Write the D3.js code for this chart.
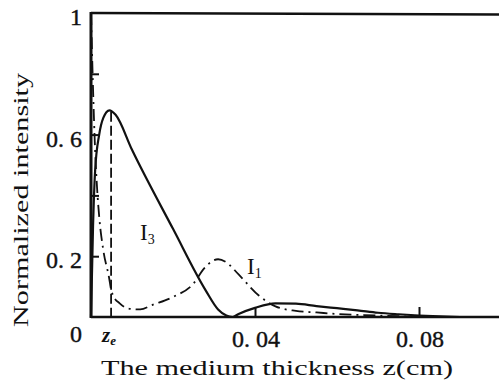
<!DOCTYPE html>
<html>
<head>
<meta charset="utf-8">
<script src="https://cdn.jsdelivr.net/npm/d3@7"></script>
<style>
  body { margin: 0; background: #fff; }
  svg { display: block; }
  text { font-family: "Liberation Serif", "DejaVu Serif", serif; fill: #111; }
</style>
</head>
<body>
<div id="chart"></div>
<script>
// I3 (solid) and I1 (dash-dot)
var i3z = [0, 0.0005, 0.001, 0.002, 0.003, 0.0045, 0.006, 0.01, 0.02, 0.028, 0.031, 0.033, 0.0345, 0.036, 0.04, 0.045, 0.05, 0.055, 0.06, 0.065, 0.07, 0.075, 0.08, 0.085, 0.09];
var i3v = [0, 0.30, 0.48, 0.60, 0.655, 0.68, 0.665, 0.55, 0.29, 0.087, 0.025, 0.005, 0.0, 0.01, 0.03, 0.045, 0.044, 0.036, 0.029, 0.022, 0.014, 0.009, 0.005, 0.002, 0];

var i1z = [0, 0.0005, 0.001, 0.0015, 0.002, 0.003, 0.0044, 0.0049, 0.0055, 0.007, 0.009, 0.012, 0.015, 0.02, 0.025, 0.0276, 0.031, 0.033, 0.036, 0.041, 0.045, 0.05, 0.055, 0.06, 0.07, 0.08];
var i1v = [1, 0.75, 0.55, 0.42, 0.33, 0.22, 0.13, 0.09, 0.068, 0.045, 0.028, 0.025, 0.04, 0.066, 0.11, 0.16, 0.19, 0.18, 0.14, 0.07, 0.035, 0.02, 0.015, 0.01, 0.005, 0];

var ze = 0.0049;
var yTicks = [0.2, 0.4, 0.6, 0.8];
var yLabels = [[1, "1"], [0.6, "0. 6"], [0.2, "0. 2"], [0, "0"]];
var xTicks = [0.04, 0.08];
var xLabels = [[0.04, "0. 04"], [0.08, "0. 08"]];

var W = 499, H = 388;
var svg = d3.select("#chart").append("svg").attr("width", W).attr("height", H);

var x = d3.scaleLinear().domain([0, 0.1]).range([91, 501]);
var y = d3.scaleLinear().domain([0, 1]).range([317, 13]);

// ticks
svg.append("g")
  .attr("transform", "translate(" + x(0) + ",0)")
  .call(d3.axisLeft(y).tickValues(yTicks).tickSize(-8).tickFormat(""))
  .call(function(g){ g.select(".domain").remove(); g.selectAll("line").attr("stroke", "#111").attr("stroke-width", 2); });

svg.append("g")
  .attr("transform", "translate(0," + y(0) + ")")
  .call(d3.axisBottom(x).tickValues(xTicks).tickSize(-10).tickFormat(""))
  .call(function(g){ g.select(".domain").remove(); g.selectAll("line").attr("stroke", "#111").attr("stroke-width", 2); });

// frame: left, bottom, top
svg.append("line").attr("x1", x(0)).attr("x2", x(0)).attr("y1", y(1) - 1).attr("y2", y(0) + 1)
  .attr("stroke", "#111").attr("stroke-width", 3);
svg.append("line").attr("x1", x(0)).attr("x2", W).attr("y1", y(0)).attr("y2", y(0))
  .attr("stroke", "#111").attr("stroke-width", 2.5);
svg.append("line").attr("x1", x(0)).attr("x2", W).attr("y1", y(1)).attr("y2", y(1) + 1.5)
  .attr("stroke", "#111").attr("stroke-width", 2.5);

// curves
var i3 = i3z.map(function(z, i){ return [z, i3v[i]]; });
var i1 = i1z.map(function(z, i){ return [z, i1v[i]]; });
var line = d3.line().x(function(d){ return x(d[0]); }).y(function(d){ return y(d[1]); }).curve(d3.curveMonotoneX);

svg.append("path").datum(i3).attr("d", line)
  .attr("fill", "none").attr("stroke", "#111").attr("stroke-width", 2.2);
svg.append("path").datum(i1).attr("d", line)
  .attr("fill", "none").attr("stroke", "#111").attr("stroke-width", 1.8)
  .attr("stroke-dasharray", "12,5,2,5");

// z_e marker
svg.append("line").attr("x1", x(ze)).attr("x2", x(ze)).attr("y1", y(0.675)).attr("y2", y(0))
  .attr("stroke", "#111").attr("stroke-width", 1.8).attr("stroke-dasharray", "10,4");

// tick labels
svg.selectAll(".ylab").data(yLabels).enter().append("text")
  .attr("class", "ylab")
  .attr("x", 82)
  .attr("y", function(d){ return d[0] === 0 ? 342 : y(d[0]) + 12; })
  .attr("text-anchor", "end")
  .attr("font-size", 24)
  .attr("stroke", "#111").attr("stroke-width", 0.4)
  .text(function(d){ return d[1]; });

svg.selectAll(".xlab").data(xLabels).enter().append("text")
  .attr("class", "xlab")
  .attr("x", function(d){ return x(d[0]) + 1; })
  .attr("y", 347)
  .attr("text-anchor", "middle")
  .attr("font-size", 24)
  .attr("stroke", "#111").attr("stroke-width", 0.4)
  .text(function(d){ return d[1]; });

var zt = svg.append("text").attr("x", x(ze) - 2).attr("y", 342).attr("text-anchor", "middle")
  .attr("font-size", 21).attr("font-style", "italic").attr("font-weight", "bold");
zt.append("tspan").text("z");
zt.append("tspan").attr("font-size", 13).attr("dy", 3).text("e");

// curve labels
var l3 = svg.append("text").attr("x", 140).attr("y", 240).attr("font-size", 23);
l3.append("tspan").text("I");
l3.append("tspan").attr("font-size", 14).attr("dy", 4).text("3");
var l1 = svg.append("text").attr("x", 247).attr("y", 274).attr("font-size", 23);
l1.append("tspan").text("I");
l1.append("tspan").attr("font-size", 14).attr("dy", 4).text("1");

// axis titles
svg.append("text").attr("x", 277).attr("y", 375).attr("text-anchor", "middle")
  .attr("font-size", 20).attr("textLength", 352).attr("lengthAdjust", "spacingAndGlyphs")
  .text("The medium thickness z(cm)");

svg.append("text").attr("transform", "translate(28,200) rotate(-90)")
  .attr("text-anchor", "middle").attr("font-size", 20)
  .attr("textLength", 254).attr("lengthAdjust", "spacingAndGlyphs")
  .text("Normalized intensity");
</script>
</body>
</html>
